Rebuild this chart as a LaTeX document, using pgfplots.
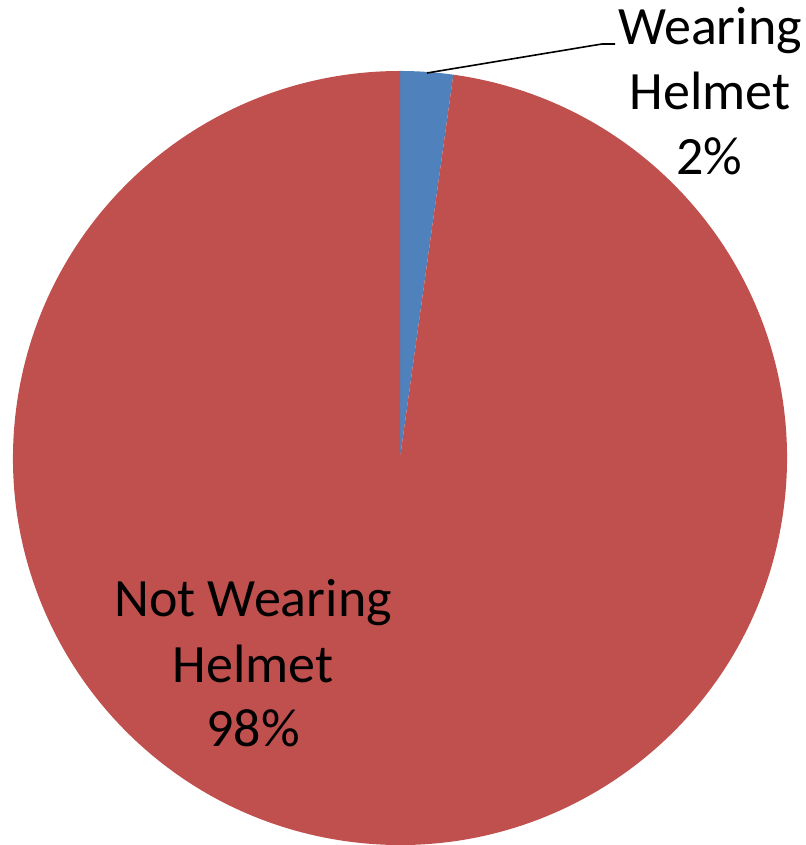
\documentclass[border=0pt]{standalone}
\usepackage{pgfplots}
\pgfplotsset{compat=1.18}
\usepackage{fontspec}
\setmainfont{Carlito}
\definecolor{pieblue}{HTML}{4F81BD}
\definecolor{piered}{HTML}{C0504D}
% data (percent)
\def\pWear{2.2}
\def\pNotWear{97.8}
\begin{document}
\begin{tikzpicture}
\begin{axis}[
  xmin=0, xmax=806, ymin=0, ymax=845,
  x=0.5pt, y=0.5pt,
  hide axis, clip=false,
]
\coordinate (ll) at (rel axis cs:0,0);
\coordinate (ur) at (rel axis cs:1,1);
% Wearing Helmet slice (clockwise from 12 o'clock)
\fill[pieblue] (axis cs:400,387) -- ++(90:193.5pt)
  arc[start angle=90, end angle={90-3.6*\pWear}, radius=193.5pt] -- cycle;
% Not Wearing Helmet slice
\fill[piered] (axis cs:400,387) -- ++({90-3.6*\pWear}:193.5pt)
  arc[start angle={90-3.6*\pWear}, end angle={90-3.6*\pWear-3.6*\pNotWear}, radius=193.5pt] -- cycle;
% leader line
\draw[black, line width=0.8pt] (axis cs:427,772) -- (axis cs:602,801) -- (axis cs:615,801);
% labels
\begin{scope}[every node/.style={font=\fontsize{27}{32}\selectfont, inner sep=0pt, anchor=base}]
\node at (axis cs:710,800) {Wearing};
\node at (axis cs:710,735) {Helmet};
\node at (axis cs:709,670) {2\%};
\node at (axis cs:253,228) {Not Wearing};
\node at (axis cs:253,162) {Helmet};
\node at (axis cs:253,98) {98\%};
\end{scope}
\end{axis}
\pgfresetboundingbox
\useasboundingbox (ll) rectangle (ur);
\end{tikzpicture}
\end{document}
